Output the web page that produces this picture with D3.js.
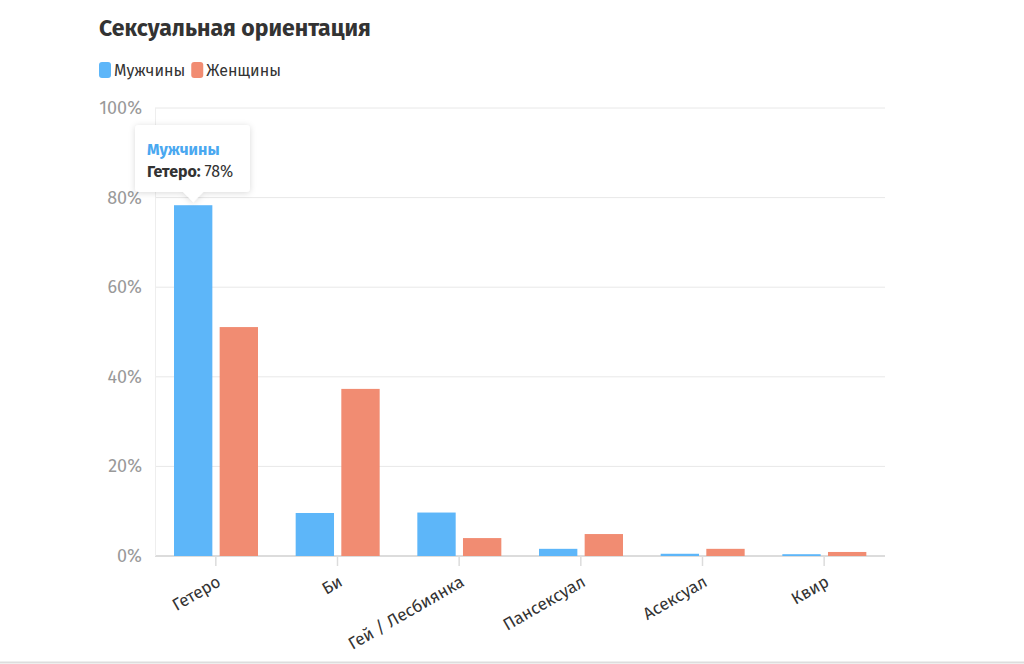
<!DOCTYPE html>
<html>
<head>
<meta charset="utf-8">
<script src="https://cdn.jsdelivr.net/npm/d3@7"></script>
<style>
  body { margin: 0; background: #fff; font-family: "Fira Sans", "Open Sans", "Noto Sans", sans-serif; }
  svg text { font-family: "Fira Sans", "Open Sans", "Noto Sans", sans-serif; }
</style>
</head>
<body>
<div id="chart"></div>
<script>
// data
const categories = ["Гетеро", "Би", "Гей / Лесбиянка", "Пансексуал", "Асексуал", "Квир"];
const seriesNames = ["Мужчины", "Женщины"];
const men   = [78.3, 9.6, 9.7, 1.6, 0.5, 0.4];
const women = [51.1, 37.3, 4.0, 4.9, 1.6, 0.9];
const yTicks = [0, 20, 40, 60, 80, 100];

const colors = {"Мужчины": "#5db6f9", "Женщины": "#f18c72"};

const W = 1024, H = 664;
const svg = d3.select("#chart").append("svg")
  .attr("width", W).attr("height", H);

// title
svg.append("text")
  .attr("x", 99).attr("y", 36)
  .attr("font-size", 23).attr("font-weight", 700)
  .attr("fill", "#333")
  .text("Сексуальная ориентация");

// legend
let lx = 99;
seriesNames.forEach(function(name) {
  svg.append("rect")
    .attr("x", lx).attr("y", 62).attr("width", 12).attr("height", 16)
    .attr("rx", 3).attr("fill", colors[name]);
  const t = svg.append("text")
    .attr("x", lx + 15).attr("y", 76)
    .attr("font-size", 16).attr("fill", "#333")
    .text(name);
  lx += 15 + t.node().getComputedTextLength() + 6;
});

// scales
const x0 = d3.scaleBand().domain(categories).range([155, 885]);
const x1 = d3.scaleBand().domain(seriesNames).range([19, 103]).paddingInner(0.16);
const y = d3.scaleLinear().domain([0, 100]).range([556, 108]);

// gridlines
svg.append("g")
  .selectAll("line")
  .data(yTicks)
  .join("line")
    .attr("x1", 155).attr("x2", 885)
    .attr("y1", d => y(d)).attr("y2", d => y(d))
    .attr("stroke", d => d === 0 ? "#dcdcdc" : "#e8e8e8")
    .attr("stroke-width", d => d === 0 ? 2 : 1);

svg.append("line")
  .attr("x1", 155.5).attr("x2", 155.5)
  .attr("y1", y(100)).attr("y2", y(0))
  .attr("stroke", "#eeeeee");

// y labels
svg.append("g")
  .selectAll("text")
  .data(yTicks)
  .join("text")
    .attr("x", 142).attr("y", d => y(d) + 6)
    .attr("text-anchor", "end")
    .attr("font-size", 18).attr("fill", "#999")
    .text(d => d + "%");

// bars
const rows = categories.map((c, i) => ({cat: c, values: [
  {name: "Мужчины", value: men[i]},
  {name: "Женщины", value: women[i]}
]}));

const groups = svg.append("g")
  .selectAll("g")
  .data(rows)
  .join("g")
    .attr("transform", d => "translate(" + x0(d.cat) + ",0)");

groups.selectAll("rect")
  .data(d => d.values)
  .join("rect")
    .attr("x", d => x1(d.name))
    .attr("y", d => y(d.value))
    .attr("width", x1.bandwidth())
    .attr("height", d => y(0) - y(d.value))
    .attr("fill", d => colors[d.name]);

// x ticks and labels
const xCenters = categories.map(c => x0(c) + x0.bandwidth() / 2);
svg.append("g")
  .selectAll("line")
  .data(xCenters)
  .join("line")
    .attr("x1", d => d).attr("x2", d => d)
    .attr("y1", 557).attr("y2", 566)
    .attr("stroke", "#dcdcdc").attr("stroke-width", 1.5);

svg.append("g")
  .selectAll("text")
  .data(categories)
  .join("text")
    .attr("transform", c => "translate(" + (x0(c) + x0.bandwidth() / 2 + 6) + ",585) rotate(-30)")
    .attr("text-anchor", "end")
    .attr("font-size", 17).attr("fill", "#333")
    .text(c => c);

// tooltip for Гетеро / Мужчины
const tipX = x0(categories[0]) + x1("Мужчины") + x1.bandwidth() / 2;
const tipY = y(men[0]) - 3;
const tip = svg.append("g");
const defs = svg.append("defs");
const f = defs.append("filter").attr("id", "shadow").attr("x", "-20%").attr("y", "-20%").attr("width", "140%").attr("height", "150%");
f.append("feDropShadow").attr("dx", 0).attr("dy", 1).attr("stdDeviation", 3).attr("flood-color", "#000").attr("flood-opacity", 0.15);

const bx = 135, by = 125, bw = 115, bh = 67, r = 4;
const path = d3.path();
path.moveTo(bx + r, by);
path.lineTo(bx + bw - r, by);
path.quadraticCurveTo(bx + bw, by, bx + bw, by + r);
path.lineTo(bx + bw, by + bh - r);
path.quadraticCurveTo(bx + bw, by + bh, bx + bw - r, by + bh);
path.lineTo(tipX + 10, by + bh);
path.lineTo(tipX, tipY);
path.lineTo(tipX - 10, by + bh);
path.lineTo(bx + r, by + bh);
path.quadraticCurveTo(bx, by + bh, bx, by + bh - r);
path.lineTo(bx, by + r);
path.quadraticCurveTo(bx, by, bx + r, by);
path.closePath();
tip.append("path").attr("d", path.toString())
  .attr("fill", "#fff").attr("filter", "url(#shadow)");

tip.append("text")
  .attr("x", 147).attr("y", 155)
  .attr("font-size", 16).attr("font-weight", 700)
  .attr("fill", "#4aa8f0")
  .text("Мужчины");
const line2 = tip.append("text")
  .attr("x", 147).attr("y", 177)
  .attr("font-size", 16).attr("fill", "#333");
line2.append("tspan").attr("font-weight", 700).text(categories[0] + ": ");
line2.append("tspan").text(Math.round(men[0]) + "%");

// bottom separator
svg.append("line")
  .attr("x1", 0).attr("x2", W)
  .attr("y1", 662.5).attr("y2", 662.5)
  .attr("stroke", "#dddddd").attr("stroke-width", 2);
</script>
</body>
</html>
